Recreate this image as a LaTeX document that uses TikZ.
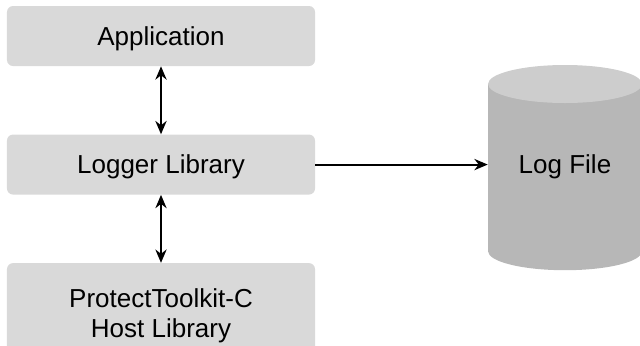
\documentclass[tikz,border=0pt]{standalone}
\usepackage{fontspec}
\setmainfont{Liberation Sans}
\usetikzlibrary{arrows.meta,positioning,calc}
\definecolor{boxgray}{RGB}{217,217,217}
\definecolor{cylbody}{RGB}{183,183,183}
\definecolor{cyltop}{RGB}{205,205,205}
\tikzset{
  log schemes/.style = {
    node distance = 1.7cm,
    % Blocks
    lb/.style = {
      minimum width=7.7cm, minimum height=1.5cm,
      fill=boxgray, rounded corners=0.15cm,
      align=center, inner sep=0pt,
      font=\fontsize{18.5pt}{21.5pt}\selectfont
    },
    lb line/.style = { text height=0.5cm, text depth=0.05cm },
    lb tall/.style = { lb, minimum height=2.65cm },
    % Lines, arrows
    both line/.style    = {line width=1.4pt,
             {Stealth[length=9.5pt,width=8pt]}-{Stealth[length=9.5pt,width=8pt]}},
    connect line/.style = {line width=1.4pt, -{Stealth[length=9.5pt,width=8pt]}},
  },
}

\begin{document}
\begin{tikzpicture}[log schemes]
\useasboundingbox (0,0) rectangle (16,-8.625);
\clip (0,0) rectangle (16,-8.625);

\node[lb, lb line] (app) at (4.025,-0.9) {Application};
\node[lb, lb line, below=of app] (logger) {Logger Library};
\node[lb tall, below=of logger] (host) {ProtectToolkit-C\\Host Library};

% cylinder
\coordinate (logc) at (14.125,-4.19);
\fill[cylbody] (logc) ++(-1.925,2.09) -- ++(0,-4.18)
   arc[start angle=180, end angle=360, x radius=1.925, y radius=0.475]
   -- ++(0,4.18) -- cycle;
\fill[cyltop] (logc) ++(0,2.09) ellipse[x radius=1.925, y radius=0.475];
\node[lb line, minimum width=3.85cm, inner sep=0pt,
      font=\fontsize{18.5pt}{21.5pt}\selectfont] (logfile) at (logc |- logger) {Log File};

\draw[both line] (app) -- (logger);
\draw[both line] (logger) -- (host);
\draw[connect line] (logger.east) -- (logfile.west);
\end{tikzpicture}
\end{document}
